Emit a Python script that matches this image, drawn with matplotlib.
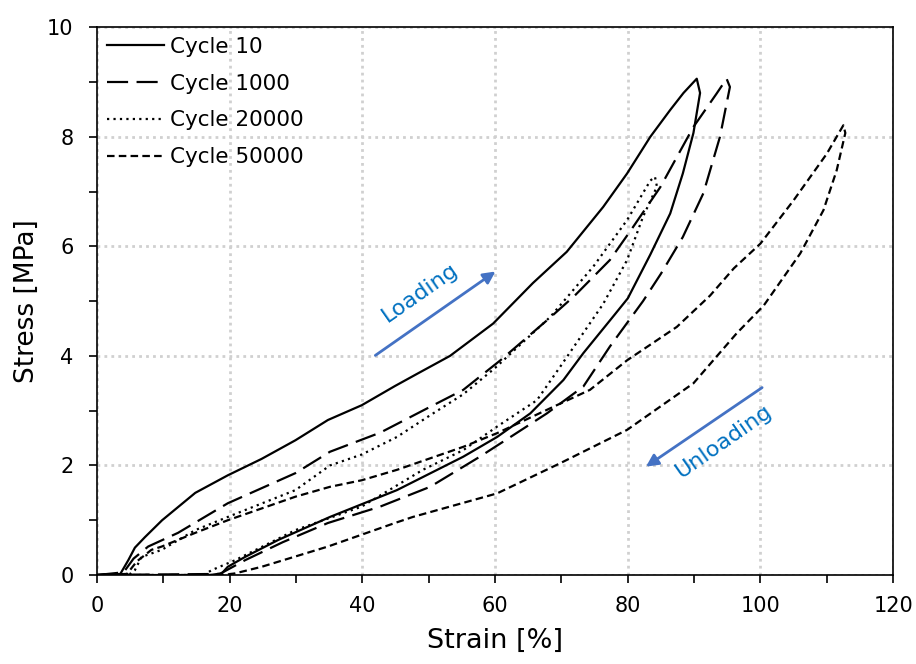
import numpy as np
import matplotlib
matplotlib.use('Agg')
import matplotlib.pyplot as plt
from matplotlib.ticker import MultipleLocator

# cycle 10 (solid)
c10_load_x = [0, 3.5, 4.7, 5.7, 7.2, 9.8, 14.8, 19.7, 24.8, 29.9, 34.8, 39.9, 44.9, 48.2, 53.2, 59.7, 65.7, 70.8, 76.3, 79.9, 83.4, 86.4, 88.4, 90.4]
c10_load_y = [0, 0.02, 0.27, 0.5, 0.69, 1.0, 1.5, 1.82, 2.12, 2.46, 2.83, 3.1, 3.45, 3.67, 4.0, 4.59, 5.33, 5.9, 6.72, 7.33, 8.0, 8.49, 8.8, 9.06]
c10_unl_x = [90.9, 89.9, 88.3, 86.4, 83.4, 80.0, 78.0, 73.3, 70.3, 65.3, 60.3, 55.2, 45.2, 35.1, 27.3, 22.3, 19.7, 18.8, 17.0, 0]
c10_unl_y = [8.8, 8.07, 7.33, 6.6, 5.85, 5.05, 4.75, 4.05, 3.56, 2.95, 2.52, 2.16, 1.55, 1.06, 0.64, 0.33, 0.15, 0.03, 0, 0]

# cycle 1000 (long dash)
c1k_load_x = [0, 4.0, 5.5, 7.7, 12.2, 19.7, 29.9, 35.1, 42.7, 50.2, 55.2, 60.8, 68.3, 72.0, 77.3, 80.5, 84.9, 89.9, 93.4, 94.9]
c1k_load_y = [0, 0.05, 0.3, 0.52, 0.77, 1.31, 1.86, 2.25, 2.6, 3.07, 3.38, 3.92, 4.7, 5.1, 5.75, 6.3, 7.08, 8.18, 8.79, 9.06]
c1k_unl_x = [95.4, 93.9, 91.4, 88.3, 85.0, 82.3, 77.3, 73.3, 67.8, 62.7, 57.7, 50.2, 42.7, 34.8, 28.0, 22.3, 18.5, 0]
c1k_unl_y = [8.91, 8.0, 6.97, 6.17, 5.5, 5.0, 4.17, 3.44, 2.95, 2.55, 2.16, 1.61, 1.25, 0.95, 0.6, 0.27, 0.02, 0]

# cycle 20000 (dotted)
c20k_load_x = [0, 5.0, 5.7, 6.7, 9.75, 14.8, 19.7, 29.9, 35.1, 39.9, 45.2, 50.0, 55.2, 60.0, 68.3, 74.8, 79.9, 83.4, 84.1]
c20k_load_y = [0, 0.02, 0.09, 0.33, 0.46, 0.82, 1.06, 1.55, 2.0, 2.2, 2.52, 2.9, 3.3, 3.78, 4.71, 5.63, 6.48, 7.2, 7.27]
c20k_unl_x = [84.4, 82.3, 79.9, 76.3, 69.8, 66.3, 60.3, 55.2, 49.1, 39.9, 29.9, 20.8, 17.3, 16.0, 0]
c20k_unl_y = [7.09, 6.54, 5.75, 4.95, 3.8, 3.19, 2.71, 2.28, 1.92, 1.25, 0.82, 0.27, 0.09, 0, 0]

# cycle 50000 (short dash)
c50k_load_x = [0, 4.5, 6.0, 8.2, 9.75, 14.8, 19.7, 29.9, 35.1, 39.9, 45.2, 55.2, 60.3, 69.3, 74.3, 79.9, 87.4, 92.4, 96.0, 100.0, 105.0, 110.0, 112.5]
c50k_load_y = [0, 0.02, 0.25, 0.46, 0.52, 0.77, 1.0, 1.43, 1.61, 1.73, 1.92, 2.34, 2.59, 3.1, 3.38, 3.92, 4.53, 5.1, 5.6, 6.05, 6.84, 7.69, 8.21]
c50k_unl_x = [112.8, 111.5, 109.5, 106.0, 100.5, 96.4, 89.9, 79.9, 69.8, 60.3, 47.6, 44.9, 34.8, 24.8, 20.8, 19.0, 0]
c50k_unl_y = [8.07, 7.39, 6.66, 5.87, 4.92, 4.41, 3.5, 2.65, 2.04, 1.49, 1.06, 0.95, 0.52, 0.15, 0.03, 0, 0]

labels = ['Cycle 10', 'Cycle 1000', 'Cycle 20000', 'Cycle 50000']

fig = plt.figure(figsize=(9.16, 6.64), dpi=100)
ax = fig.add_axes([0.106, 0.134, 0.869, 0.825])

def loop(lx, ly, ux, uy):
    return np.concatenate([lx, ux]), np.concatenate([ly, uy])

x, y = loop(c10_load_x, c10_load_y, c10_unl_x, c10_unl_y)
ax.plot(x, y, color='black', lw=1.6, label=labels[0])
x, y = loop(c1k_load_x, c1k_load_y, c1k_unl_x, c1k_unl_y)
ax.plot(x, y, color='black', lw=1.6, dashes=(9.5, 3.8), label=labels[1])
x, y = loop(c20k_load_x, c20k_load_y, c20k_unl_x, c20k_unl_y)
ax.plot(x, y, color='black', lw=1.6, dashes=(1.0, 1.9), label=labels[2])
x, y = loop(c50k_load_x, c50k_load_y, c50k_unl_x, c50k_unl_y)
ax.plot(x, y, color='black', lw=1.6, dashes=(3.4, 1.9), label=labels[3])

ax.set_xlim(0, 120)
ax.set_ylim(0, 10)
ax.xaxis.set_major_locator(MultipleLocator(20))
ax.xaxis.set_minor_locator(MultipleLocator(10))
ax.yaxis.set_major_locator(MultipleLocator(2))
ax.yaxis.set_minor_locator(MultipleLocator(1))
ax.tick_params(which='both', direction='out', length=6, width=1.2, labelsize=15)
ax.tick_params(axis='x', pad=9)
ax.tick_params(axis='y', pad=11)
ax.grid(True, which='major', linestyle=(0, (1, 1.5)), color='#d0d0d0', lw=2)
ax.set_axisbelow(True)
for s in ax.spines.values():
    s.set_linewidth(1.2)

ax.set_xlabel('Strain [%]', fontsize=19.5, labelpad=9)
ax.set_ylabel('Stress [MPa]', fontsize=19, labelpad=5)

leg = ax.legend(loc='upper left', frameon=False, fontsize=15.5, handlelength=2.65,
                handletextpad=0.28, labelspacing=0.78, borderaxespad=0.1, borderpad=0.35)

# loading / unloading arrows
arrow_col = '#4472C4'
text_col = '#0070C0'
ax.annotate('', xy=(60.4, 5.57), xytext=(41.6, 3.98),
            arrowprops=dict(arrowstyle='-|>', color=arrow_col, lw=2, mutation_scale=18))
ax.annotate('', xy=(82.4, 1.95), xytext=(100.6, 3.45),
            arrowprops=dict(arrowstyle='-|>', color=arrow_col, lw=2, mutation_scale=18))
ax.text(48.7, 5.15, 'Loading', color=text_col, fontsize=16, rotation=35,
        ha='center', va='center')
ax.text(94.4, 2.43, 'Unloading', color=text_col, fontsize=16, rotation=35,
        ha='center', va='center')

plt.savefig('out.png', dpi=100)
